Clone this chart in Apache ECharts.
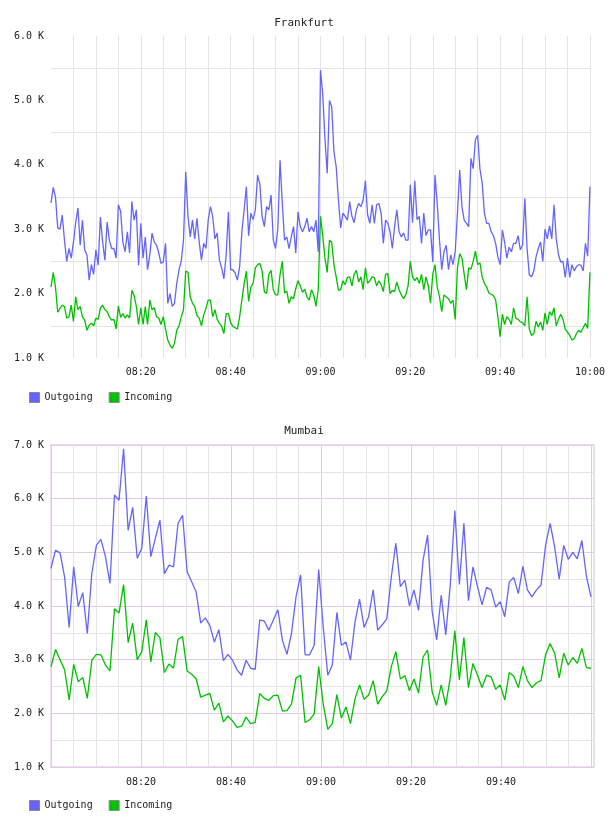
<!DOCTYPE html>
<html>
<head>
<meta charset="utf-8">
<script src="https://cdn.jsdelivr.net/npm/echarts@6/dist/echarts.min.js"></script>
<style>
  html, body { margin: 0; padding: 0; background: #fff; }
  #chart { width: 608px; height: 816px; }
</style>
</head>
<body>
<div id="chart"></div>
<script>
// traffic in K, Frankfurt sampled every 30 s from 08:00
const frankfurtOutgoing = [
  3.41, 3.65, 3.5, 3.02, 3.0, 3.22, 2.83, 2.5, 2.7, 2.55,
  2.8, 3.1, 3.33, 2.75, 3.14, 2.68, 2.6, 2.21, 2.45, 2.3,
  2.68, 2.44, 3.19, 2.8, 2.52, 3.11, 2.83, 2.7, 2.7, 2.55,
  3.38, 3.28, 2.8, 2.65, 2.96, 2.63, 3.43, 3.14, 3.3, 2.44,
  3.09, 2.55, 2.88, 2.37, 2.6, 2.94, 2.8, 2.75, 2.63, 2.47,
  2.49, 2.78, 1.85, 2.0, 1.8, 1.85, 2.16, 2.37, 2.5, 2.83,
  3.89, 3.2, 2.88, 3.14, 2.85, 3.17, 2.8, 2.52, 2.78, 2.7,
  3.14, 3.35, 3.2, 2.85, 2.94, 2.52, 2.4, 2.23, 2.6, 3.27,
  2.37, 2.37, 2.32, 2.21, 2.42, 2.96, 3.3, 3.66, 2.9, 3.25,
  3.15, 3.3, 3.84, 3.7, 3.2, 3.04, 3.35, 3.3, 3.53, 2.83,
  2.7, 3.0, 4.07, 3.4, 2.83, 2.88, 2.7, 2.88, 3.04, 2.63,
  3.27, 3.04, 2.96, 3.04, 3.17, 2.96, 3.04, 2.96, 3.14, 2.65,
  5.47, 5.1, 4.4, 3.87, 5.0, 4.9, 4.2, 3.97, 3.45, 3.02,
  3.25, 3.2, 3.14, 3.43, 3.2, 3.1, 3.3, 3.4, 3.35, 3.45,
  3.75, 3.22, 3.09, 3.38, 3.09, 3.38, 3.4, 3.25, 2.78, 3.14,
  3.09, 2.96, 2.7, 3.04, 3.3, 2.96, 2.88, 2.94, 2.83, 2.83,
  3.69, 3.1, 3.75, 3.15, 3.2, 2.78, 3.25, 2.9, 2.99, 2.99,
  2.49, 3.84, 3.4, 2.83, 2.37, 2.65, 2.75, 2.37, 2.6, 2.45,
  2.65, 3.25, 3.92, 3.35, 3.14, 3.09, 3.04, 4.1, 3.94, 4.39,
  4.46, 3.94, 3.72, 3.25, 3.09, 3.09, 2.96, 2.9, 2.78, 2.57,
  2.45, 2.99, 2.8, 2.55, 2.72, 2.65, 2.78, 2.78, 2.9, 2.68,
  2.75, 3.48, 2.7, 2.29, 2.26, 2.35, 2.57, 2.7, 2.8, 2.5,
  3.0, 2.85, 3.05, 2.85, 3.38, 2.85, 2.6, 2.49, 2.5, 2.25,
  2.55, 2.25, 2.45, 2.35, 2.42, 2.45, 2.44, 2.35, 2.78, 2.58,
  3.66
];
const frankfurtIncoming = [
  2.1, 2.33, 2.1, 1.71, 1.77, 1.82, 1.8, 1.62, 1.64, 1.82,
  1.57, 1.95, 1.75, 1.8, 1.64, 1.59, 1.43, 1.51, 1.54, 1.5,
  1.62, 1.6, 1.78, 1.82, 1.75, 1.72, 1.64, 1.59, 1.6, 1.45,
  1.81, 1.63, 1.69, 1.62, 1.67, 1.62, 2.05, 1.97, 1.8, 1.52,
  1.78, 1.52, 1.8, 1.52, 1.9, 1.75, 1.78, 1.64, 1.62, 1.52,
  1.64, 1.45, 1.28, 1.2, 1.15, 1.23, 1.43, 1.5, 1.64, 1.75,
  2.35, 2.33, 1.95, 1.85, 1.8, 1.66, 1.62, 1.5, 1.67, 1.77,
  1.9, 1.9, 1.64, 1.75, 1.6, 1.54, 1.49, 1.38, 1.69, 1.69,
  1.55, 1.49, 1.47, 1.45, 1.64, 1.9, 2.15, 2.35, 1.88, 2.1,
  2.16, 2.4, 2.45, 2.47, 2.35, 2.03, 2.0, 2.3, 2.36, 2.06,
  1.98, 1.98, 2.3, 2.5, 2.01, 2.04, 1.85, 1.95, 1.92, 2.08,
  2.2, 2.12, 2.02, 2.07, 1.95, 1.9, 2.06, 1.98, 1.8, 2.06,
  3.2, 2.9, 2.55, 2.33, 2.83, 2.8, 2.45, 2.26, 2.05, 2.06,
  2.2, 2.14, 2.25, 2.26, 2.12, 2.3, 2.36, 2.18, 2.26, 2.06,
  2.4, 2.16, 2.2, 2.26, 2.25, 2.12, 2.2, 2.14, 2.03, 2.3,
  2.31, 2.0, 2.05, 2.03, 2.18, 2.06, 1.98, 1.92, 1.98, 2.12,
  2.5, 2.26, 2.2, 2.25, 2.16, 2.3, 2.06, 2.26, 2.12, 1.85,
  2.3, 2.45, 2.1, 1.95, 1.72, 1.98, 1.95, 1.92, 1.85, 1.9,
  1.6, 2.4, 2.62, 2.55, 2.3, 2.06, 2.4, 2.38, 2.5, 2.66,
  2.45, 2.48, 2.26, 2.16, 2.1, 2.01, 1.99, 1.97, 1.9, 1.64,
  1.33, 1.68, 1.52, 1.64, 1.6, 1.52, 1.78, 1.62, 1.6, 1.56,
  1.55, 1.5, 1.95, 1.45, 1.35, 1.38, 1.57, 1.48, 1.56, 1.43,
  1.7, 1.52, 1.72, 1.66, 1.78, 1.5, 1.6, 1.68, 1.6, 1.45,
  1.4, 1.35, 1.28, 1.3, 1.38, 1.43, 1.4, 1.47, 1.54, 1.46,
  2.33
];
// Mumbai sampled about once a minute from 08:00
const mumbaiOutgoing = [
  4.70, 5.04, 4.99, 4.54, 3.6, 4.73, 3.99, 4.25, 3.49, 4.61,
  5.13, 5.24, 4.92, 4.42, 6.07, 5.97, 6.93, 5.41, 5.84, 4.89,
  5.07, 6.05, 4.92, 5.26, 5.6, 4.6, 4.76, 4.73, 5.54, 5.69,
  4.64, 4.45, 4.26, 3.68, 3.78, 3.64, 3.33, 3.56, 2.98, 3.10,
  2.99, 2.81, 2.71, 2.99, 2.84, 2.82, 3.74, 3.72, 3.55, 3.74,
  3.93, 3.36, 3.10, 3.49, 4.17, 4.58, 3.09, 3.09, 3.27, 4.68,
  3.6, 2.71, 2.9, 3.88, 3.27, 3.33, 2.99, 3.7, 4.13, 3.6,
  3.8, 4.3, 3.55, 3.65, 3.76, 4.54, 5.17, 4.36, 4.48, 4.0,
  4.3, 3.92, 4.85, 5.32, 3.9, 3.37, 4.2, 3.46, 4.4, 5.78,
  4.4, 5.54, 4.1, 4.73, 4.36, 4.02, 4.35, 4.3, 3.98, 4.08,
  3.8, 4.45, 4.53, 4.23, 4.74, 4.3, 4.17, 4.3, 4.39, 5.13,
  5.54, 5.1, 4.5, 5.13, 4.87, 5.0, 4.88, 5.22, 4.55, 4.17
];
const mumbaiIncoming = [
  2.87, 3.19, 3.0, 2.81, 2.25, 2.91, 2.59, 2.67, 2.28, 2.99,
  3.1, 3.09, 2.9, 2.79, 3.95, 3.87, 4.4, 3.32, 3.68, 3.0,
  3.15, 3.74, 2.96, 3.51, 3.41, 2.76, 2.92, 2.84, 3.38, 3.43,
  2.79, 2.73, 2.64, 2.3, 2.34, 2.37, 2.06, 2.19, 1.84, 1.95,
  1.86, 1.74, 1.76, 1.93, 1.81, 1.83, 2.37, 2.28, 2.24, 2.33,
  2.34, 2.04, 2.05, 2.17, 2.66, 2.71, 1.83, 1.88, 1.99, 2.87,
  2.17, 1.70, 1.81, 2.35, 1.91, 2.12, 1.81, 2.27, 2.53, 2.26,
  2.34, 2.61, 2.17, 2.31, 2.42, 2.87, 3.15, 2.64, 2.70, 2.42,
  2.64, 2.38, 3.05, 3.18, 2.40, 2.15, 2.53, 2.15, 2.67, 3.54,
  2.62, 3.41, 2.48, 2.93, 2.71, 2.48, 2.71, 2.68, 2.45, 2.53,
  2.25, 2.76, 2.69, 2.48, 2.87, 2.61, 2.48, 2.57, 2.61, 3.09,
  3.30, 3.12, 2.66, 3.12, 2.90, 3.04, 2.93, 3.21, 2.85, 2.84
];
const seriesNames = ['Outgoing', 'Incoming'];
const cityTitles = ['Frankfurt', 'Mumbai'];
const frankfurtStepMin = 0.5;
const mumbaiStepMin = 60.5 / 60;

const FONT = '"DejaVu Sans Mono", monospace';
const BLUE = '#6464ff';
const GREEN = '#00c000';
const GRAY = '#e4e4e4';
const PINK = '#e2cbe6';

// minutes after 08:00 -> HH:MM
const hhmm = (m) => {
  const h = 8 + Math.floor(m / 60);
  const mm = Math.round(m % 60);
  return String(h).padStart(2, '0') + ':' + String(mm).padStart(2, '0');
};
const withTime = (values, step) => values.map((v, i) => [i * step, v]);
const kLabel = (v) => (Number.isInteger(v) ? v.toFixed(1) + ' K' : '');

const chart = echarts.init(document.getElementById('chart'), null, { renderer: 'canvas' });

const labelStyle = { fontFamily: FONT, fontSize: 10, color: '#222' };
const legendBase = {
  data: seriesNames,
  left: 24,
  icon: 'rect',
  itemWidth: 10,
  itemHeight: 10,
  itemGap: 16,
  itemStyle: { borderColor: '#888', borderWidth: 1 },
  textStyle: { fontFamily: FONT, fontSize: 10, color: '#222' },
  selectedMode: false
};

const option = {
  animation: false,
  backgroundColor: '#fff',
  title: [
    { text: cityTitles[0], left: 'center', top: 13, textStyle: { fontFamily: FONT, fontSize: 11, fontWeight: 'normal', color: '#222' } },
    { text: cityTitles[1], left: 'center', top: 421, textStyle: { fontFamily: FONT, fontSize: 11, fontWeight: 'normal', color: '#222' } }
  ],
  legend: [
    Object.assign({}, legendBase, { top: 387 }),
    Object.assign({}, legendBase, { top: 795 })
  ],
  grid: [
    { left: 51, top: 36, width: 540, height: 322 },
    { left: 51, top: 445, width: 543, height: 322, show: true, borderColor: '#eddcee', borderWidth: 2 }
  ],
  xAxis: [
    {
      type: 'value', gridIndex: 0, min: 0, max: 120, interval: 5,
      axisLine: { show: false }, axisTick: { show: false },
      splitLine: { show: true, showMinLine: false, lineStyle: { color: GRAY, width: 1 } },
      axisLabel: Object.assign({ margin: 9, formatter: (m) => (m > 0 && m % 20 === 0 ? hhmm(m) : '') }, labelStyle)
    },
    {
      type: 'value', gridIndex: 1, min: 0, max: 120.67, interval: 5,
      axisLine: { show: false }, axisTick: { show: false },
      splitLine: { show: true, lineStyle: { color: [PINK, GRAY, GRAY, GRAY], width: 1 } },
      axisLabel: Object.assign({ margin: 10, formatter: (m) => (m > 0 && m < 120 && m % 20 === 0 ? hhmm(m) : '') }, labelStyle)
    }
  ],
  yAxis: [
    {
      type: 'value', gridIndex: 0, min: 1, max: 6, interval: 0.5,
      axisLine: { show: false }, axisTick: { show: false },
      splitLine: { show: true, lineStyle: { color: ['rgba(0,0,0,0)', GRAY], width: 1 } },
      axisLabel: Object.assign({ margin: 7, formatter: kLabel }, labelStyle)
    },
    {
      type: 'value', gridIndex: 1, min: 1, max: 7, interval: 0.5,
      axisLine: { show: false }, axisTick: { show: false },
      splitLine: { show: true, lineStyle: { color: [PINK, GRAY], width: 1 } },
      axisLabel: Object.assign({ margin: 7, formatter: kLabel }, labelStyle)
    }
  ],
  series: [
    {
      name: seriesNames[0], type: 'line', xAxisIndex: 0, yAxisIndex: 0,
      data: withTime(frankfurtOutgoing, frankfurtStepMin),
      showSymbol: false, color: BLUE, lineStyle: { color: BLUE, width: 1.3 }
    },
    {
      name: seriesNames[1], type: 'line', xAxisIndex: 0, yAxisIndex: 0,
      data: withTime(frankfurtIncoming, frankfurtStepMin),
      showSymbol: false, color: GREEN, lineStyle: { color: GREEN, width: 1.3 }
    },
    {
      name: seriesNames[0], type: 'line', xAxisIndex: 1, yAxisIndex: 1,
      data: withTime(mumbaiOutgoing, mumbaiStepMin),
      showSymbol: false, color: BLUE, lineStyle: { color: BLUE, width: 1.3 }
    },
    {
      name: seriesNames[1], type: 'line', xAxisIndex: 1, yAxisIndex: 1,
      data: withTime(mumbaiIncoming, mumbaiStepMin),
      showSymbol: false, color: GREEN, lineStyle: { color: GREEN, width: 1.3 }
    }
  ]
};

option && chart.setOption(option);
window.addEventListener('resize', () => {
  chart.resize();
});
</script>
</body>
</html>
